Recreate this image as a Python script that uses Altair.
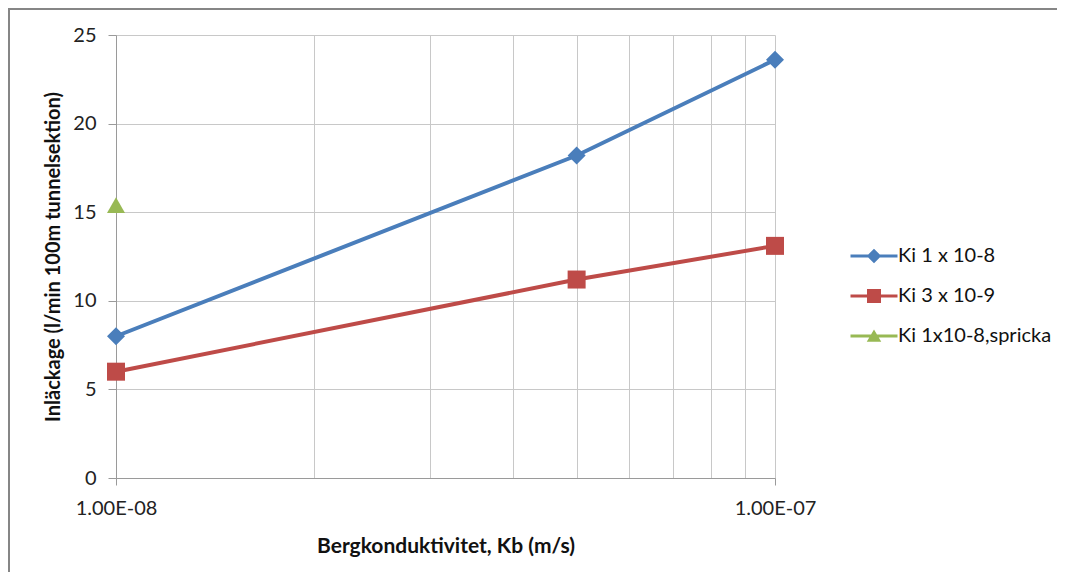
import altair as alt
import pandas as pd

# ---- data ----
series = ["Ki 1 x 10-8", "Ki 3 x 10-9", "Ki 1x10-8,spricka"]
kb = [1e-8, 5e-8, 1e-7]
ki_1e8 = [8.0, 18.2, 23.6]
ki_3e9 = [6.0, 11.2, 13.1]
spricka_kb = [1e-8]
spricka = [15.4]

x_grid = [1e-8, 2e-8, 3e-8, 4e-8, 5e-8, 6e-8, 7e-8, 8e-8, 9e-8, 1e-7]
y_ticks = [0, 5, 10, 15, 20, 25]

colors = ["#4a7ebb", "#be4b48", "#98b954"]
shapes = ["diamond", "square", "triangle-up"]

# legend symbols: line with marker (unit = 5 px)
legend_paths = [
    "M-4.7,-0.32H4.7V0.32H-4.7Z M0,-1.45L1.45,0L0,1.45L-1.45,0Z",
    "M-4.7,-0.32H4.7V0.32H-4.7Z M-1.4,-1.4H1.4V1.4H-1.4Z",
    "M-4.7,-0.32H4.7V0.32H-4.7Z M0,-1.3L1.45,1.15H-1.45Z",
]

rows = []
for s, xs, ys in [(series[0], kb, ki_1e8), (series[1], kb, ki_3e9), (series[2], spricka_kb, spricka)]:
    for x, y in zip(xs, ys):
        rows.append({"serie": s, "kb": x, "q": y})
df = pd.DataFrame(rows)

FONT = "Lato"

x_enc = alt.X(
    "kb:Q",
    scale=alt.Scale(type="log", domain=[1e-8, 1e-7], nice=False),
    axis=alt.Axis(
        title="Bergkonduktivitet, Kb (m/s)",
        values=x_grid,
        labelExpr="datum.value <= 1.01e-8 ? '1.00E-08' : (datum.value >= 0.99e-7 ? '1.00E-07' : '')",
        grid=True,
        gridColor="#c8c8c8",
        domainColor="#9a9a9a",
        tickColor={"condition": {"test": "datum.value <= 1.01e-8 || datum.value >= 0.99e-7", "value": "#9a9a9a"}, "value": "transparent"},
        tickSize=7,
        labelPadding=13,
        labelFont=FONT,
        labelFontSize=20,
        labelColor="#222222",
        titleFont=FONT,
        titleFontSize=21,
        titleFontWeight="bold",
        titleColor="#111111",
        titlePadding=17,
        labelFlush=False,
        labelOverlap=False,
    ),
)
y_enc = alt.Y(
    "q:Q",
    scale=alt.Scale(domain=[0, 25], nice=False),
    axis=alt.Axis(
        title="Inläckage (l/min 100m tunnelsektion)",
        values=y_ticks,
        grid=True,
        gridColor="#c8c8c8",
        domainColor="#9a9a9a",
        tickColor="#9a9a9a",
        tickSize=8,
        labelPadding=12,
        labelFont=FONT,
        labelFontSize=20,
        labelColor="#222222",
        titleFont=FONT,
        titleFontSize=20,
        titleFontWeight="bold",
        titleColor="#111111",
        titlePadding=9,
    ),
)

lines = alt.Chart(df).mark_line(strokeWidth=4).encode(
    x=x_enc,
    y=y_enc,
    color=alt.Color("serie:N", scale=alt.Scale(domain=series, range=colors), legend=None),
    detail="serie:N",
)

points = alt.Chart(df).mark_point(filled=True, opacity=1, strokeWidth=0, size=324).encode(
    x="kb:Q",
    y="q:Q",
    color=alt.Color("serie:N", scale=alt.Scale(domain=series, range=colors), legend=None),
    shape=alt.Shape("serie:N", scale=alt.Scale(domain=series, range=shapes), legend=None),
)

leg = alt.Legend(
    title=None,
    orient="none",
    legendX=748,
    legendY=211,
    padding=0,
    symbolSize=100,
    symbolStrokeWidth=0,
    symbolOpacity=1,
    labelOffset=14,
    labelFont=FONT,
    labelFontSize=20,
    labelColor="#111111",
    rowPadding=20,
)

legend_layer = (
    alt.Chart(df)
    .transform_filter("false")
    .mark_point(filled=True, strokeWidth=0)
    .encode(
        x="kb:Q",
        y="q:Q",
        color=alt.Color("serie:N", scale=alt.Scale(domain=series, range=colors), legend=leg),
        shape=alt.Shape("serie:N", scale=alt.Scale(domain=series, range=legend_paths), legend=leg),
    )
)

frame_df = pd.DataFrame({"f": [0]})
frame_top = alt.Chart(frame_df).mark_rule(color="#868686", strokeWidth=2, clip=False).encode(
    x=alt.value(-108), x2=alt.value(941), y=alt.value(-26)
)
frame_left = alt.Chart(frame_df).mark_rule(color="#868686", strokeWidth=2, clip=False).encode(
    x=alt.value(-107), y=alt.value(-27), y2=alt.value(537)
)

chart = (
    alt.layer(frame_top, frame_left, lines, points, legend_layer)
    .resolve_scale(color="independent", shape="independent")
    .properties(
        width=659,
        height=443,
        autosize=alt.AutoSizeParams(type="none"),
        padding={"left": 108, "top": 27, "right": 282, "bottom": 94},
        background="white",
    )
    .configure_view(stroke=None)
)

chart.save("out.html", embed_options={"renderer": "svg", "actions": False})
